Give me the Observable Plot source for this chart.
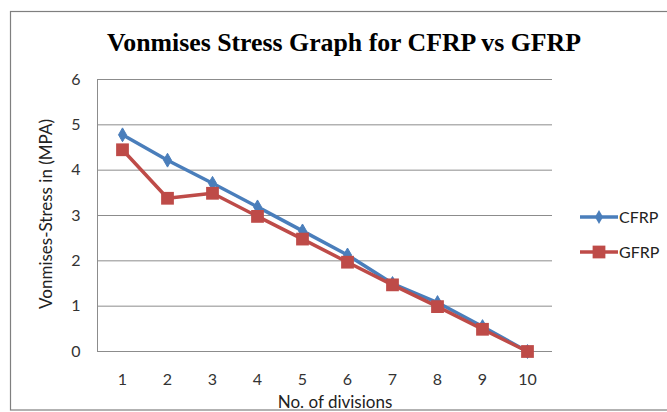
<!DOCTYPE html>
<html>
<head>
<meta charset="utf-8">
<script src="https://cdn.jsdelivr.net/npm/d3@7"></script>
<script src="https://cdn.jsdelivr.net/npm/@observablehq/plot@0.6"></script>
<style>
  html, body { margin: 0; padding: 0; background: #fff; }
  svg { display: block; }
</style>
</head>
<body>
<div id="chart"></div>
<script>
const divisions = [1, 2, 3, 4, 5, 6, 7, 8, 9, 10];
const cfrp = [4.78, 4.22, 3.71, 3.19, 2.66, 2.13, 1.50, 1.08, 0.55, 0.00];
const gfrp = [4.45, 3.38, 3.49, 2.98, 2.48, 1.97, 1.47, 0.99, 0.49, 0.00];
const yTicks = [0, 1, 2, 3, 4, 5, 6];
const seriesNames = ["CFRP", "GFRP"];
const seriesColors = ["#4a7ebb", "#be4b48"];
const titleText = "Vonmises Stress Graph for CFRP vs GFRP";
const yLabel = "Vonmises-Stress in (MPA)";
const xLabel = "No. of divisions";

const rows = [];
divisions.forEach((d, i) => {
  rows.push({ div: d, value: cfrp[i], series: seriesNames[0] });
  rows.push({ div: d, value: gfrp[i], series: seriesNames[1] });
});
const cRows = rows.filter(r => r.series === "CFRP");
const gRows = rows.filter(r => r.series === "GFRP");

const font = "Lato, 'Open Sans', sans-serif";

const plot = Plot.plot({
  width: 667,
  height: 412,
  marginLeft: 97,
  marginRight: 115,
  marginTop: 79,
  marginBottom: 61,
  style: { fontFamily: font, fontSize: "16px", color: "#333", background: "#fff" },
  x: { type: "point", domain: divisions, padding: 0.5, label: null },
  y: { domain: [0, 6], ticks: yTicks, label: null },
  marks: [
    Plot.ruleY(yTicks, { stroke: "#8c8c8c", strokeWidth: 1 }),
    Plot.frame({ anchor: "left", stroke: "#8c8c8c", strokeWidth: 1 }),
    Plot.axisY({ ticks: yTicks, tickFormat: d => String(d), tickSize: 0, tickPadding: 17, fontSize: 16, fill: "#333" }),
    Plot.axisX({ tickSize: 0, tickPadding: 22, fontSize: 16, fill: "#333" }),
    Plot.line(cRows, { x: "div", y: "value", stroke: seriesColors[0], strokeWidth: 3.5 }),
    Plot.line(gRows, { x: "div", y: "value", stroke: seriesColors[1], strokeWidth: 3.5 }),
    Plot.dot(cRows, { x: "div", y: "value", symbol: "diamond", r: 4.2, fill: seriesColors[0], stroke: seriesColors[0], strokeWidth: 1 }),
    Plot.dot(gRows, { x: "div", y: "value", symbol: "square", r: 7.2, fill: seriesColors[1], stroke: "none" })
  ]
});

document.getElementById("chart").appendChild(plot);
const svg = d3.select(plot);

// Title
svg.append("text")
  .attr("x", 344).attr("y", 51)
  .attr("text-anchor", "middle")
  .attr("font-family", "'Liberation Serif', 'DejaVu Serif', serif")
  .attr("font-weight", "bold")
  .attr("font-size", 25.8)
  .attr("fill", "#000")
  .text(titleText);

// Y label
svg.append("text")
  .attr("transform", "translate(52,214) rotate(-90)")
  .attr("text-anchor", "middle")
  .attr("font-family", font)
  .attr("font-size", 17)
  .attr("fill", "#222")
  .text(yLabel);

// X label
svg.append("text")
  .attr("x", 335).attr("y", 407.5)
  .attr("text-anchor", "middle")
  .attr("font-family", font)
  .attr("font-size", 17)
  .attr("fill", "#222")
  .text(xLabel);

// Legend
const legend = svg.append("g");
seriesNames.forEach((name, i) => {
  const y = 217 + i * 35;
  const g = legend.append("g");
  g.append("line").attr("x1", 580).attr("x2", 618).attr("y1", y).attr("y2", y)
    .attr("stroke", seriesColors[i]).attr("stroke-width", 3.5);
  const sym = i === 0 ? d3.symbolDiamond : d3.symbolSquare;
  const r = i === 0 ? 4.2 : 7.2;
  g.append("path").attr("transform", `translate(599,${y})`)
    .attr("d", d3.symbol(sym, Math.PI * r * r)())
    .attr("fill", seriesColors[i]);
  g.append("text").attr("x", 619).attr("y", y).attr("dy", "0.35em")
    .attr("text-anchor", "start")
    .attr("font-family", font).attr("font-size", 16).attr("fill", "#222")
    .text(name);
});

// Outer chart border
svg.append("rect")
  .attr("x", 10.5).attr("y", 11.5)
  .attr("width", 700).attr("height", 398.5)
  .attr("fill", "none").attr("stroke", "#7f7f7f").attr("stroke-width", 1.2);
</script>
</body>
</html>
